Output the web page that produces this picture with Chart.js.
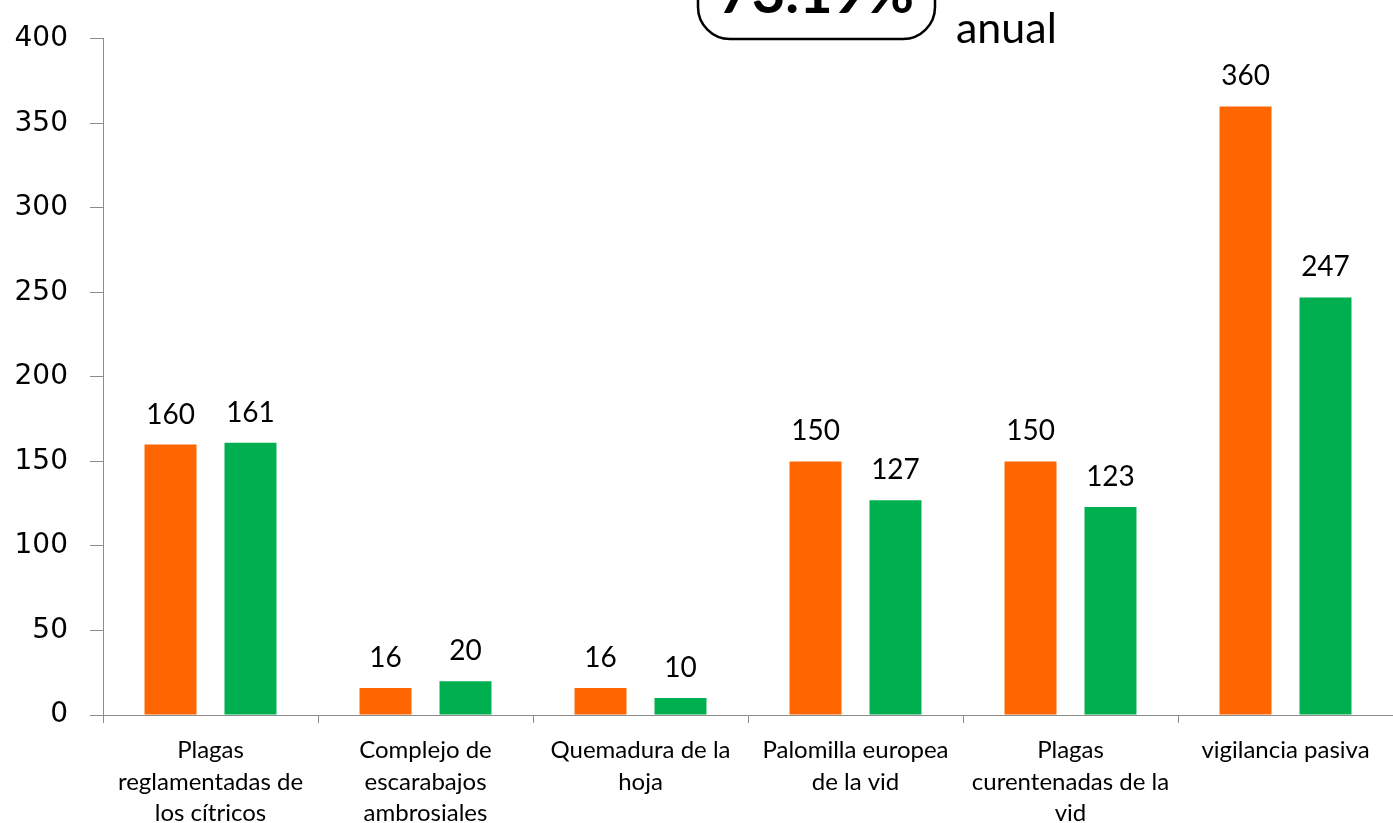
<!DOCTYPE html>
<html>
<head>
<meta charset="utf-8">
<script src="https://cdn.jsdelivr.net/npm/chart.js@4"></script>
<style>
  html, body { margin: 0; padding: 0; background: #fff; overflow: hidden; }
  #wrap { width: 1393px; height: 823px; }
</style>
</head>
<body>
<div id="wrap"><canvas id="grafico"></canvas></div>
<script>
// datos
const categorias = [
    ['Plagas', 'reglamentadas de', 'los cítricos'],
    ['Complejo de', 'escarabajos', 'ambrosiales'],
    ['Quemadura de la', 'hoja'],
    ['Palomilla europea', 'de la vid'],
    ['Plagas', 'curentenadas de la', 'vid'],
    ['vigilancia pasiva']
];
const programado = [160, 16, 16, 150, 150, 360];
const realizado = [161, 20, 10, 127, 123, 247];
const ticksY = [0, 50, 100, 150, 200, 250, 300, 350, 400];
const porcentaje = '73.19%';
const etiquetaAnual = 'anual';

// etiquetas de valor encima de cada barra
const etiquetasValor = {
    id: 'etiquetasValor',
    afterDatasetsDraw(chart) {
        const ctx = chart.ctx;
        ctx.save();
        ctx.font = '28px Lato';
        ctx.fillStyle = '#000';
        ctx.textAlign = 'center';
        ctx.textBaseline = 'alphabetic';
        chart.data.datasets.forEach((ds, i) => {
            chart.getDatasetMeta(i).data.forEach((bar, j) => {
                ctx.fillText(ds.data[j], bar.x, bar.y - 21);
            });
        });
        ctx.restore();
    }
};

// cuadro con el porcentaje anual (recortado arriba)
const cuadroAnual = {
    id: 'cuadroAnual',
    afterDraw(chart) {
        const ctx = chart.ctx;
        ctx.save();
        const x0 = 698, x1 = 935, y1 = 39, r = 32;
        ctx.beginPath();
        ctx.moveTo(x0, -40);
        ctx.lineTo(x0, y1 - r);
        ctx.arcTo(x0, y1, x0 + r, y1, r);
        ctx.lineTo(x1 - r, y1);
        ctx.arcTo(x1, y1, x1, y1 - r, r);
        ctx.lineTo(x1, -40);
        ctx.lineWidth = 2.5;
        ctx.strokeStyle = '#000';
        ctx.stroke();
        ctx.fillStyle = '#000';
        ctx.textAlign = 'center';
        ctx.font = 'bold 58px Lato';
        ctx.fillText(porcentaje, 816, 13);
        ctx.textAlign = 'left';
        ctx.font = '43px Lato';
        ctx.fillText(etiquetaAnual, 956, 43);
        ctx.restore();
    }
};

const ctx = document.getElementById('grafico').getContext('2d');
new Chart(ctx, {
    type: 'bar',
    data: {
        labels: categorias,
        datasets: [{
            label: 'Programado',
            data: programado,
            backgroundColor: '#FF6600',
            categoryPercentage: 0.744,
            barPercentage: 0.65
        }, {
            label: 'Realizado',
            data: realizado,
            backgroundColor: '#00B050',
            categoryPercentage: 0.744,
            barPercentage: 0.65
        }]
    },
    options: {
        responsive: true,
        maintainAspectRatio: false,
        animation: false,
        layout: { padding: { top: 35, right: 0, left: 0, bottom: 0 } },
        plugins: {
            legend: { display: false },
            tooltip: { enabled: false }
        },
        scales: {
            x: {
                afterFit(scale) { scale.height = 108; },
                grid: { drawOnChartArea: false, tickLength: 8, color: '#8c8c8c', offset: true },
                border: { color: '#8c8c8c', width: 1 },
                ticks: {
                    color: '#000',
                    font: { family: 'Lato', size: 24, lineHeight: 1.3 },
                    padding: 12,
                    maxRotation: 0,
                    autoSkip: false
                }
            },
            y: {
                min: 0,
                max: 400,
                afterFit(scale) { scale.width = 103; },
                afterBuildTicks(scale) { scale.ticks = ticksY.map(v => ({ value: v })); },
                grid: { drawOnChartArea: false, tickLength: 13, color: '#8c8c8c' },
                border: { color: '#8c8c8c', width: 1 },
                ticks: {
                    color: '#000',
                    font: { family: 'DejaVu Sans', size: 28 },
                    padding: 22
                }
            }
        }
    },
    plugins: [etiquetasValor, cuadroAnual]
});
</script>
</body>
</html>
